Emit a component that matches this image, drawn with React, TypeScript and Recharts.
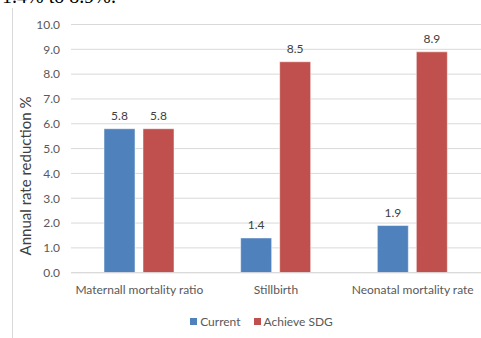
import { BarChart, Bar, XAxis, YAxis, CartesianGrid, LabelList } from 'recharts';

const categories = ['Maternall mortality ratio', 'Stillbirth', 'Neonatal mortality rate'];
const current = [5.8, 1.4, 1.9];
const achieveSdg = [5.8, 8.5, 8.9];
const yTicks = [0, 1, 2, 3, 4, 5, 6, 7, 8, 9, 10];

const data = categories.map((name, i) => ({
  name,
  current: current[i],
  sdg: achieveSdg[i],
}));

const series = [
  { key: 'current', name: 'Current', color: '#4F81BD' },
  { key: 'sdg', name: 'Achieve SDG', color: '#C0504D' },
];

const font = 'Lato, "Open Sans", sans-serif';
const gray = '#595959';

export default function App() {
  return (
    <div style={{ position: 'absolute', left: 0, top: 0, width: 481, height: 338, background: '#fff', overflow: 'hidden' }}>
      {/* bit of the paragraph above the figure, cut off at the top */}
      <div
        style={{
          position: 'absolute',
          left: 2,
          top: -14,
          fontFamily: '"Liberation Serif", serif',
          fontSize: 20,
          lineHeight: '20px',
          color: '#000',
          whiteSpace: 'nowrap',
        }}
      >
        1.4% to 8.9%.
      </div>
      <div style={{ position: 'absolute', left: 12, top: 8, width: 1, height: 330, background: '#d9d9d9' }} />

      <div
        style={{
          position: 'absolute',
          left: 25,
          top: 176,
          transform: 'translate(-50%, -50%) rotate(-90deg)',
          fontFamily: font,
          fontSize: 15,
          color: '#404040',
          whiteSpace: 'nowrap',
        }}
      >
        Annual rate reduction %
      </div>

      <div style={{ position: 'absolute', left: 0, top: 0 }}>
        <BarChart
          width={481}
          height={338}
          data={data}
          margin={{ top: 24.5, right: 0, bottom: 35.3, left: 0 }}
          barSize={31}
          barGap={8}
        >
          <CartesianGrid vertical={false} stroke="#d9d9d9" />
          <XAxis
            dataKey="name"
            height={30}
            tickSize={0}
            tickMargin={13}
            axisLine={{ stroke: '#d9d9d9' }}
            tick={{ fontFamily: font, fontSize: 12, fill: gray }}
            interval={0}
          />
          <YAxis
            width={71}
            domain={[0, 10]}
            ticks={yTicks}
            tickFormatter={(v: number) => v.toFixed(1)}
            tickSize={0}
            tickMargin={11}
            axisLine={false}
            tick={{ fontFamily: font, fontSize: 12, fill: gray }}
          />
          {series.map((s) => (
            <Bar key={s.key} dataKey={s.key} name={s.name} fill={s.color} stroke="#ffffff" strokeWidth={0.5} isAnimationActive={false}>
              <LabelList
                dataKey={s.key}
                position="top"
                offset={9}
                formatter={(v: number) => v.toFixed(1)}
                style={{ fontFamily: font, fontSize: 12, fill: '#404040' }}
              />
            </Bar>
          ))}
        </BarChart>
      </div>

      {/* legend */}
      <div
        style={{
          position: 'absolute',
          left: 42,
          top: 314,
          width: 439,
          display: 'flex',
          justifyContent: 'center',
          gap: 13,
          fontFamily: font,
          fontSize: 12,
          color: gray,
        }}
      >
        {series.map((s) => (
          <div key={s.key} style={{ display: 'flex', alignItems: 'center', gap: 3 }}>
            <div style={{ width: 7, height: 7, background: s.color }} />
            <span>{s.name}</span>
          </div>
        ))}
      </div>
    </div>
  );
}
